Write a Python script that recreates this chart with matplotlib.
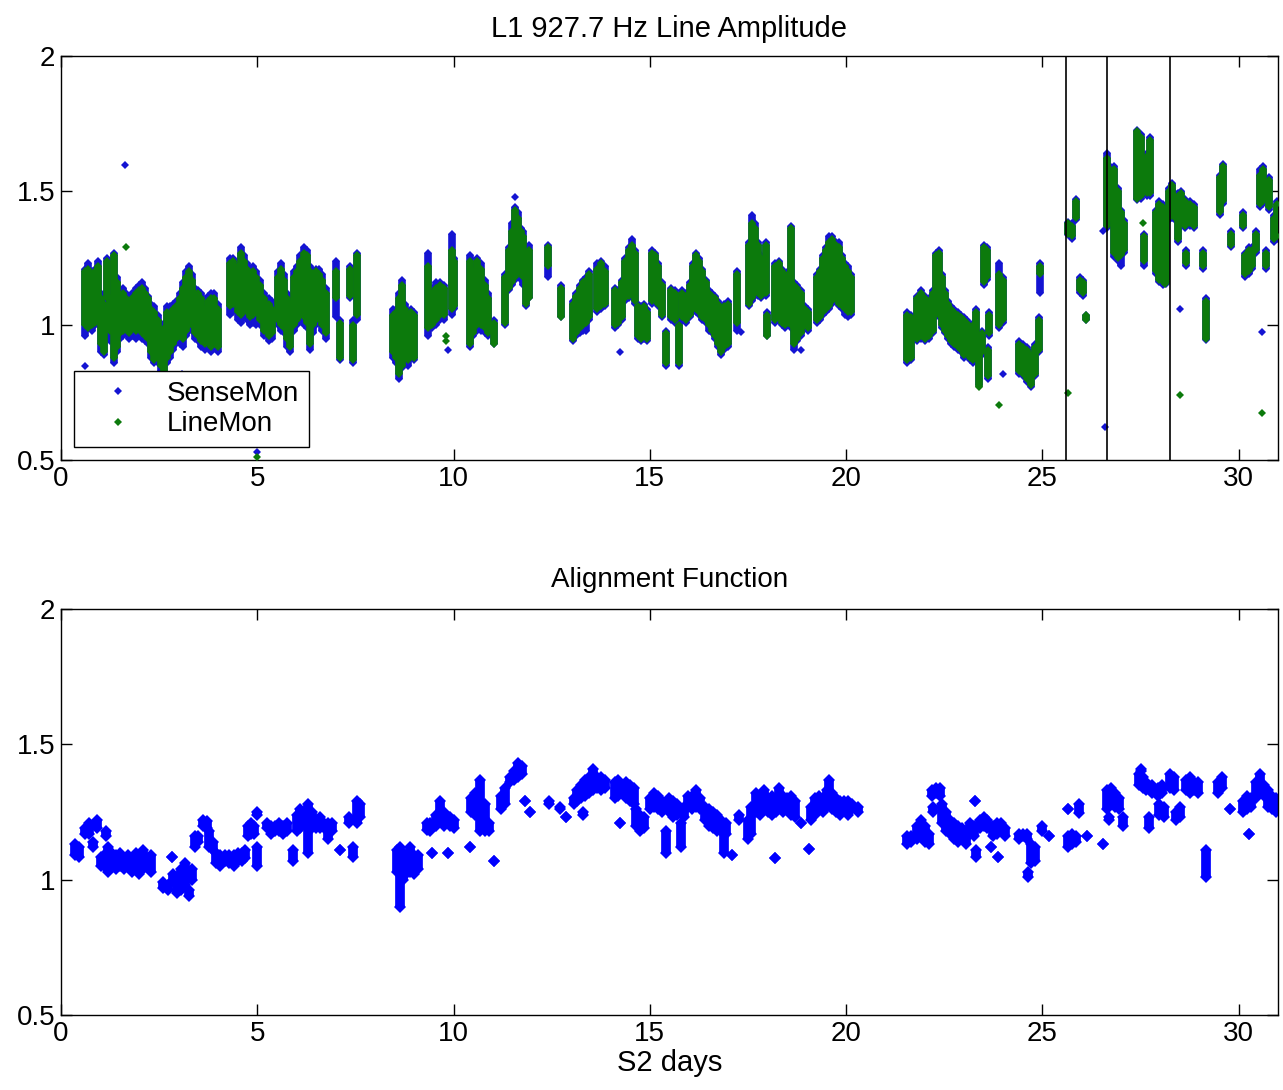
import matplotlib
matplotlib.use('Agg')
import matplotlib.pyplot as plt
from matplotlib.lines import Line2D

plt.rcParams['font.family'] = ['Liberation Sans', 'DejaVu Sans']

# ---- top panel: L1 927.7 Hz line amplitude, vertical spread of each burst of samples
amp_day = [0.62, 0.70, 0.78, 0.86, 0.94, 1.02, 1.10, 1.18, 1.26, 1.34,
           1.42, 1.50, 1.58, 1.66, 1.74, 1.82, 1.90, 1.98, 2.06, 2.14,
           2.22, 2.30, 2.38, 2.46, 2.54, 2.62, 2.70, 2.78, 2.86, 2.94,
           3.02, 3.10, 3.18, 3.26, 3.34, 3.42, 3.50, 3.58, 3.66, 3.74,
           3.82, 3.90, 4.00, 4.30, 4.38, 4.50, 4.58, 4.66, 4.74, 4.82,
           4.90, 4.98, 5.06, 5.16, 5.30, 5.38, 5.52, 5.60, 5.68, 5.76,
           5.84, 5.94, 6.02, 6.10, 6.18, 6.26, 6.34, 6.42, 6.50, 6.58,
           6.66, 6.74, 7.00, 7.12, 7.35, 7.45, 7.55, 8.45, 8.53, 8.60,
           8.68, 8.76, 8.84, 8.92, 9.00, 9.35, 9.45, 9.55, 9.65, 9.75,
           9.95, 10.02, 10.42, 10.50, 10.60, 10.70, 10.80, 10.88, 11.03, 11.30,
           11.42, 11.50, 11.57, 11.64, 11.71, 11.78, 11.85, 11.92, 12.40, 12.73,
           13.05, 13.13, 13.21, 13.29, 13.37, 13.45, 13.65, 13.75, 13.85, 14.12,
           14.20, 14.30, 14.38, 14.46, 14.54, 14.62, 14.70, 14.78, 14.86, 14.94,
           15.05, 15.13, 15.21, 15.30, 15.40, 15.55, 15.65, 15.75, 15.82, 15.92,
           16.02, 16.10, 16.18, 16.26, 16.34, 16.42, 16.50, 16.58, 16.66, 16.74,
           16.82, 16.90, 16.98, 17.22, 17.52, 17.60, 17.68, 17.76, 17.84, 17.95,
           17.99, 18.20, 18.28, 18.36, 18.44, 18.52, 18.60, 18.68, 18.76, 18.84,
           18.94, 19.02, 19.25, 19.33, 19.41, 19.49, 19.57, 19.65, 19.73, 19.81,
           19.89, 19.97, 20.05, 20.13, 21.55, 21.65, 21.80, 21.90, 22.00, 22.10,
           22.20, 22.28, 22.36, 22.44, 22.52, 22.60, 22.68, 22.76, 22.84, 22.92,
           23.00, 23.08, 23.16, 23.24, 23.30, 23.38, 23.45, 23.50, 23.58, 23.62,
           23.65, 23.90, 24.00, 24.40, 24.50, 24.60, 24.70, 24.80, 24.90, 24.95,
           25.65, 25.75, 25.85, 25.95, 26.03, 26.10, 26.65, 26.72, 26.82, 26.92,
           27.00, 27.08, 27.42, 27.50, 27.58, 27.66, 27.75, 27.90, 27.98, 28.06,
           28.14, 28.22, 28.30, 28.38, 28.46, 28.54, 28.62, 28.66, 28.76, 28.86,
           29.10, 29.17, 29.52, 29.60, 29.80, 30.10, 30.15, 30.25, 30.35, 30.45,
           30.55, 30.63, 30.70, 30.78, 30.90, 30.98]

line_lo = [1.00, 0.99, 1.00, 1.01, 1.02, 0.93, 0.90, 1.10, 0.98, 0.88,
           0.92, 0.97, 0.98, 0.99, 0.97, 0.99, 0.98, 1.00, 0.97, 0.96,
           0.95, 0.90, 0.87, 0.88, 0.85, 0.82, 0.88, 0.90, 0.93, 0.95,
           0.96, 0.95, 0.98, 1.00, 1.00, 0.97, 0.96, 0.94, 0.93, 0.95,
           0.92, 0.94, 0.92, 1.07, 1.08, 1.05, 1.04, 1.06, 1.05, 1.03,
           1.04, 1.05, 1.02, 0.98, 0.96, 0.97, 1.02, 1.00, 0.99, 0.95,
           0.92, 1.00, 1.02, 1.04, 1.03, 1.01, 0.93, 1.00, 1.02, 1.03,
           1.00, 0.97, 1.10, 0.88, 1.11, 0.87, 1.04, 0.90, 0.88, 0.82,
           0.85, 0.88, 0.87, 0.90, 0.88, 0.99, 1.00, 1.02, 1.04, 1.04,
           1.06, 1.07, 0.93, 0.97, 1.00, 1.00, 0.99, 0.97, 0.93, 1.01,
           1.14, 1.16, 1.18, 1.20, 1.19, 1.18, 1.08, 1.10, 1.22, 1.03,
           0.95, 0.97, 0.99, 1.00, 1.01, 1.03, 1.06, 1.07, 1.08, 1.00,
           1.01, 1.03, 1.10, 1.11, 1.12, 1.09, 0.96, 0.95, 0.96, 0.95,
           1.09, 1.10, 1.08, 1.04, 0.86, 1.03, 1.02, 0.86, 1.03, 1.02,
           1.04, 1.06, 1.06, 1.05, 1.03, 1.02, 1.00, 0.98, 0.96, 0.93,
           0.90, 0.92, 0.93, 1.01, 1.08, 1.10, 1.12, 1.12, 1.11, 1.12,
           0.96, 1.02, 1.03, 1.01, 1.00, 1.01, 1.00, 0.93, 0.95, 0.97,
           1.00, 0.99, 1.02, 1.03, 1.05, 1.06, 1.07, 1.09, 1.10, 1.08,
           1.07, 1.06, 1.05, 1.05, 0.87, 0.88, 0.95, 0.96, 0.95, 0.96,
           0.98, 1.05, 1.04, 1.00, 0.98, 0.96, 0.94, 0.93, 0.92, 0.91,
           0.89, 0.90, 0.88, 0.87, 0.88, 0.77, 0.90, 1.16, 1.18, 0.81,
           0.97, 1.00, 1.02, 0.83, 0.82, 0.80, 0.78, 0.82, 0.91, 1.19,
           1.34, 1.33, 1.40, 1.13, 1.12, 1.02, 1.37, 1.40, 1.27, 1.25,
           1.26, 1.28, 1.47, 1.48, 1.24, 1.49, 1.49, 1.20, 1.17, 1.16,
           1.16, 1.40, 1.41, 1.40, 1.32, 1.39, 1.37, 1.23, 1.38, 1.37,
           1.22, 0.95, 1.42, 1.46, 1.30, 1.37, 1.19, 1.20, 1.22, 1.28,
           1.45, 1.46, 1.22, 1.44, 1.32, 1.33]

line_hi = [1.20, 1.21, 1.19, 1.20, 1.22, 1.10, 1.08, 1.24, 1.10, 1.26,
           1.16, 1.10, 1.12, 1.10, 1.08, 1.10, 1.12, 1.13, 1.14, 1.12,
           1.10, 1.06, 1.05, 1.02, 0.98, 0.99, 1.05, 1.04, 1.06, 1.07,
           1.10, 1.14, 1.18, 1.20, 1.17, 1.12, 1.12, 1.10, 1.06, 1.09,
           1.10, 1.10, 1.06, 1.23, 1.24, 1.22, 1.27, 1.24, 1.21, 1.18,
           1.20, 1.18, 1.15, 1.10, 1.08, 1.06, 1.18, 1.21, 1.17, 1.10,
           1.08, 1.18, 1.20, 1.24, 1.27, 1.26, 1.20, 1.18, 1.20, 1.19,
           1.17, 1.12, 1.20, 1.01, 1.21, 1.00, 1.26, 1.04, 1.05, 1.10,
           1.15, 1.06, 1.04, 1.05, 1.04, 1.22, 1.12, 1.14, 1.15, 1.14,
           1.28, 1.24, 1.24, 1.20, 1.24, 1.21, 1.15, 1.10, 1.01, 1.18,
           1.28, 1.35, 1.43, 1.40, 1.35, 1.33, 1.25, 1.28, 1.29, 1.14,
           1.08, 1.11, 1.14, 1.16, 1.17, 1.19, 1.21, 1.23, 1.20, 1.13,
           1.12, 1.16, 1.24, 1.28, 1.30, 1.27, 1.07, 1.06, 1.07, 1.05,
           1.27, 1.26, 1.22, 1.15, 0.97, 1.13, 1.12, 1.00, 1.12, 1.11,
           1.15, 1.22, 1.26, 1.24, 1.20, 1.16, 1.12, 1.11, 1.10, 1.08,
           1.06, 1.07, 1.08, 1.19, 1.30, 1.38, 1.36, 1.30, 1.25, 1.30,
           1.04, 1.22, 1.23, 1.20, 1.18, 1.19, 1.36, 1.15, 1.14, 1.12,
           1.06, 1.05, 1.18, 1.20, 1.25, 1.28, 1.31, 1.32, 1.30, 1.29,
           1.25, 1.22, 1.20, 1.18, 1.04, 1.03, 1.10, 1.12, 1.10, 1.09,
           1.12, 1.26, 1.27, 1.18, 1.12, 1.08, 1.06, 1.05, 1.04, 1.03,
           1.02, 1.01, 0.99, 1.00, 1.05, 0.95, 0.97, 1.29, 1.28, 0.91,
           1.04, 1.19, 1.17, 0.93, 0.92, 0.91, 0.89, 0.92, 1.02, 1.22,
           1.38, 1.37, 1.46, 1.17, 1.16, 1.04, 1.62, 1.58, 1.58, 1.50,
           1.42, 1.38, 1.72, 1.70, 1.33, 1.63, 1.69, 1.42, 1.45, 1.44,
           1.40, 1.50, 1.52, 1.48, 1.48, 1.49, 1.46, 1.27, 1.45, 1.44,
           1.27, 1.09, 1.55, 1.59, 1.34, 1.41, 1.26, 1.28, 1.28, 1.34,
           1.56, 1.58, 1.27, 1.54, 1.40, 1.45]

sense_lo = [0.96, 0.99, 0.98, 1.00, 1.00, 0.90, 0.89, 1.08, 0.94, 0.86,
            0.90, 0.95, 0.96, 0.97, 0.95, 0.96, 0.95, 0.96, 0.95, 0.94,
            0.93, 0.88, 0.86, 0.86, 0.83, 0.80, 0.86, 0.88, 0.91, 0.93,
            0.93, 0.92, 0.96, 0.98, 0.98, 0.95, 0.94, 0.92, 0.91, 0.93,
            0.90, 0.92, 0.90, 1.04, 1.05, 1.02, 1.01, 1.03, 1.02, 1.00,
            1.01, 1.00, 1.00, 0.96, 0.94, 0.95, 1.00, 0.98, 0.97, 0.92,
            0.90, 0.98, 1.00, 1.02, 1.00, 0.99, 0.91, 0.97, 1.00, 1.01,
            0.98, 0.95, 1.03, 0.87, 1.10, 0.86, 1.02, 0.88, 0.86, 0.80,
            0.84, 0.86, 0.85, 0.88, 0.87, 0.96, 0.99, 1.00, 1.02, 1.02,
            1.04, 1.06, 0.92, 0.96, 0.98, 0.98, 0.97, 0.96, 0.93, 1.00,
            1.13, 1.15, 1.17, 1.18, 1.17, 1.15, 1.07, 1.10, 1.18, 1.03,
            0.94, 0.96, 0.97, 0.98, 0.98, 1.02, 1.05, 1.06, 1.07, 0.99,
            1.00, 1.02, 1.09, 1.10, 1.11, 1.08, 0.95, 0.94, 0.95, 0.94,
            1.08, 1.09, 1.07, 1.03, 0.85, 1.02, 1.01, 0.85, 1.02, 1.01,
            1.03, 1.05, 1.05, 1.04, 1.02, 1.01, 0.98, 0.97, 0.95, 0.92,
            0.89, 0.91, 0.92, 0.98, 1.07, 1.09, 1.11, 1.11, 1.10, 1.11,
            0.96, 1.01, 1.02, 1.00, 0.99, 1.00, 0.99, 0.91, 0.94, 0.96,
            0.99, 0.98, 1.01, 1.02, 1.04, 1.05, 1.06, 1.08, 1.09, 1.07,
            1.06, 1.04, 1.03, 1.04, 0.86, 0.87, 0.94, 0.95, 0.94, 0.95,
            0.97, 1.04, 1.03, 0.99, 0.97, 0.95, 0.93, 0.92, 0.91, 0.90,
            0.88, 0.89, 0.87, 0.86, 0.87, 0.78, 0.89, 1.15, 1.17, 0.80,
            0.96, 0.99, 1.01, 0.82, 0.81, 0.79, 0.77, 0.81, 0.90, 1.12,
            1.335, 1.32, 1.39, 1.12, 1.11, 1.02, 1.36, 1.39, 1.255, 1.24,
            1.22, 1.27, 1.465, 1.47, 1.22, 1.48, 1.48, 1.19, 1.16, 1.15,
            1.155, 1.39, 1.40, 1.39, 1.31, 1.38, 1.36, 1.22, 1.37, 1.36,
            1.21, 0.945, 1.41, 1.45, 1.29, 1.36, 1.18, 1.19, 1.21, 1.27,
            1.44, 1.45, 1.21, 1.43, 1.31, 1.32]

sense_hi = [1.21, 1.23, 1.20, 1.21, 1.24, 1.12, 1.10, 1.25, 1.12, 1.27,
            1.18, 1.12, 1.14, 1.12, 1.10, 1.12, 1.14, 1.15, 1.16, 1.14,
            1.11, 1.08, 1.07, 1.04, 1.00, 1.01, 1.07, 1.07, 1.08, 1.09,
            1.12, 1.16, 1.20, 1.22, 1.19, 1.14, 1.13, 1.12, 1.08, 1.11,
            1.12, 1.12, 1.08, 1.25, 1.25, 1.24, 1.29, 1.26, 1.23, 1.20,
            1.22, 1.20, 1.17, 1.12, 1.10, 1.09, 1.20, 1.23, 1.19, 1.12,
            1.10, 1.20, 1.22, 1.26, 1.29, 1.28, 1.22, 1.20, 1.21, 1.21,
            1.19, 1.14, 1.24, 1.02, 1.22, 1.02, 1.27, 1.06, 1.06, 1.12,
            1.17, 1.08, 1.05, 1.06, 1.05, 1.27, 1.14, 1.16, 1.16, 1.15,
            1.34, 1.25, 1.26, 1.22, 1.25, 1.23, 1.17, 1.12, 1.02, 1.19,
            1.29, 1.38, 1.44, 1.42, 1.36, 1.35, 1.27, 1.30, 1.30, 1.15,
            1.09, 1.12, 1.15, 1.17, 1.18, 1.20, 1.23, 1.24, 1.22, 1.14,
            1.13, 1.17, 1.25, 1.29, 1.32, 1.28, 1.08, 1.07, 1.08, 1.06,
            1.28, 1.27, 1.23, 1.16, 0.98, 1.14, 1.13, 1.01, 1.13, 1.12,
            1.16, 1.23, 1.27, 1.25, 1.21, 1.17, 1.13, 1.12, 1.11, 1.09,
            1.07, 1.08, 1.09, 1.20, 1.31, 1.41, 1.38, 1.31, 1.26, 1.31,
            1.05, 1.23, 1.24, 1.21, 1.19, 1.20, 1.37, 1.16, 1.15, 1.13,
            1.07, 1.06, 1.19, 1.21, 1.26, 1.29, 1.33, 1.33, 1.31, 1.31,
            1.26, 1.23, 1.22, 1.19, 1.05, 1.04, 1.11, 1.13, 1.11, 1.10,
            1.13, 1.27, 1.28, 1.19, 1.13, 1.09, 1.07, 1.06, 1.05, 1.04,
            1.03, 1.02, 1.00, 1.01, 1.06, 0.96, 0.98, 1.30, 1.29, 0.92,
            1.05, 1.23, 1.18, 0.94, 0.93, 0.92, 0.90, 0.93, 1.03, 1.23,
            1.385, 1.38, 1.47, 1.18, 1.17, 1.04, 1.64, 1.59, 1.59, 1.51,
            1.43, 1.39, 1.725, 1.71, 1.34, 1.64, 1.70, 1.43, 1.46, 1.45,
            1.41, 1.51, 1.53, 1.49, 1.49, 1.50, 1.47, 1.28, 1.46, 1.45,
            1.28, 1.10, 1.56, 1.60, 1.35, 1.42, 1.27, 1.29, 1.29, 1.35,
            1.58, 1.59, 1.28, 1.55, 1.41, 1.46]

# isolated samples
sense_out_day = [0.62, 1.64, 2.60, 3.08, 4.99, 9.86, 11.57, 14.25, 17.31, 18.84,
                 24.00, 26.54, 26.60, 28.50, 30.60]
sense_out_val = [0.85, 1.595, 0.83, 0.82, 0.53, 0.91, 1.475, 0.90, 0.976, 0.91,
                 0.82, 1.35, 0.624, 1.06, 0.976]
line_out_day = [1.66, 4.99, 9.80, 9.82, 23.89, 25.65, 27.55, 28.12, 28.50, 30.60]
line_out_val = [1.29, 0.51, 0.96, 0.94, 0.704, 0.747, 1.38, 1.155, 0.74, 0.673]

# lock-loss markers
event_day = [25.61, 26.65, 28.25]

# ---- bottom panel: alignment function
align_day = [0.35, 0.45, 0.62, 0.72, 0.82, 0.91, 1.02, 1.10, 1.15, 1.20,
             1.30, 1.40, 1.50, 1.60, 1.70, 1.80, 1.90, 2.00, 2.10, 2.20,
             2.30, 2.60, 2.72, 2.82, 2.85, 2.95, 3.05, 3.15, 3.25, 3.35,
             3.42, 3.50, 3.62, 3.72, 3.78, 3.88, 3.95, 4.05, 4.18, 4.28,
             4.40, 4.50, 4.60, 4.70, 4.76, 4.84, 4.92, 4.99, 5.00, 5.25,
             5.35, 5.45, 5.55, 5.65, 5.75, 5.92, 6.00, 6.10, 6.20, 6.30,
             6.40, 6.50, 6.60, 6.70, 6.80, 6.90, 7.10, 7.33, 7.45, 7.55,
             7.62, 8.55, 8.64, 8.72, 8.80, 8.90, 9.00, 9.10, 9.32, 9.40,
             9.45, 9.55, 9.66, 9.76, 9.87, 9.90, 10.00, 10.43, 10.45, 10.55,
             10.68, 10.80, 10.90, 11.04, 11.22, 11.32, 11.45, 11.55, 11.65, 11.75,
             11.83, 11.94, 12.42, 12.72, 12.87, 13.06, 13.15, 13.25, 13.30, 13.35,
             13.45, 13.55, 13.65, 13.75, 13.85, 14.10, 14.20, 14.25, 14.30, 14.40,
             14.50, 14.60, 14.66, 14.75, 14.85, 15.00, 15.10, 15.20, 15.30, 15.40,
             15.50, 15.60, 15.70, 15.80, 15.88, 15.98, 16.08, 16.18, 16.28, 16.40,
             16.50, 16.60, 16.70, 16.80, 16.88, 16.95, 17.10, 17.26, 17.50, 17.58,
             17.70, 17.80, 17.90, 18.00, 18.10, 18.20, 18.22, 18.30, 18.40, 18.50,
             18.60, 18.70, 18.84, 19.05, 19.10, 19.20, 19.30, 19.40, 19.50, 19.56,
             19.65, 19.75, 19.85, 19.95, 20.05, 20.15, 20.30, 21.55, 21.65, 21.80,
             21.90, 22.00, 22.10, 22.18, 22.20, 22.28, 22.38, 22.45, 22.55, 22.65,
             22.75, 22.85, 22.95, 23.05, 23.15, 23.25, 23.27, 23.30, 23.40, 23.50,
             23.60, 23.68, 23.75, 23.85, 23.87, 23.95, 24.05, 24.40, 24.50, 24.60,
             24.62, 24.72, 24.80, 24.98, 25.17, 25.64, 25.66, 25.76, 25.86, 25.93,
             26.13, 26.54, 26.65, 26.70, 26.75, 26.85, 26.95, 27.06, 27.45, 27.50,
             27.55, 27.65, 27.72, 27.80, 27.95, 27.96, 28.05, 28.10, 28.25, 28.35,
             28.40, 28.50, 28.65, 28.75, 28.85, 28.95, 29.17, 29.48, 29.58, 29.78,
             30.10, 30.20, 30.27, 30.30, 30.45, 30.55, 30.65, 30.75, 30.85, 30.95]

align_lo = [1.09, 1.085, 1.17, 1.17, 1.12, 1.19, 1.05, 1.05, 1.16, 1.03,
            1.05, 1.04, 1.05, 1.04, 1.05, 1.03, 1.04, 1.02, 1.04, 1.05,
            1.03, 0.97, 0.96, 1.085, 1.00, 0.95, 0.96, 0.98, 0.94, 1.00,
            1.12, 1.14, 1.20, 1.19, 1.12, 1.11, 1.06, 1.05, 1.07, 1.06,
            1.05, 1.07, 1.07, 1.08, 1.16, 1.17, 1.17, 1.24, 1.05, 1.19,
            1.17, 1.18, 1.18, 1.17, 1.18, 1.07, 1.18, 1.19, 1.21, 1.10,
            1.19, 1.19, 1.19, 1.19, 1.15, 1.18, 1.11, 1.21, 1.085, 1.21,
            1.23, 1.03, 0.90, 1.00, 1.02, 1.03, 1.02, 1.04, 1.185, 1.18,
            1.10, 1.20, 1.22, 1.20, 1.10, 1.20, 1.19, 1.12, 1.25, 1.24,
            1.18, 1.18, 1.18, 1.07, 1.26, 1.28, 1.36, 1.37, 1.38, 1.39,
            1.29, 1.25, 1.28, 1.26, 1.23, 1.28, 1.29, 1.30, 1.24, 1.31,
            1.32, 1.33, 1.34, 1.33, 1.34, 1.30, 1.31, 1.21, 1.32, 1.30,
            1.29, 1.28, 1.20, 1.18, 1.19, 1.26, 1.27, 1.26, 1.25, 1.10,
            1.25, 1.23, 1.24, 1.12, 1.23, 1.27, 1.26, 1.27, 1.26, 1.22,
            1.20, 1.19, 1.18, 1.18, 1.10, 1.17, 1.09, 1.22, 1.15, 1.17,
            1.25, 1.24, 1.26, 1.25, 1.24, 1.08, 1.25, 1.27, 1.25, 1.26,
            1.24, 1.23, 1.21, 1.115, 1.22, 1.24, 1.26, 1.25, 1.27, 1.30,
            1.26, 1.25, 1.24, 1.26, 1.24, 1.26, 1.25, 1.13, 1.14, 1.15,
            1.17, 1.14, 1.13, 1.31, 1.25, 1.32, 1.31, 1.21, 1.18, 1.17,
            1.15, 1.14, 1.15, 1.13, 1.17, 1.16, 1.29, 1.085, 1.19, 1.20,
            1.19, 1.12, 1.16, 1.17, 1.085, 1.18, 1.16, 1.15, 1.16, 1.15,
            1.01, 1.06, 1.07, 1.18, 1.16, 1.26, 1.12, 1.13, 1.14, 1.245,
            1.16, 1.13, 1.26, 1.22, 1.28, 1.27, 1.26, 1.20, 1.35, 1.40,
            1.34, 1.33, 1.19, 1.32, 1.31, 1.24, 1.32, 1.23, 1.34, 1.33,
            1.22, 1.23, 1.33, 1.32, 1.33, 1.32, 1.01, 1.32, 1.34, 1.26,
            1.25, 1.26, 1.17, 1.27, 1.30, 1.32, 1.31, 1.27, 1.26, 1.25]

align_hi = [1.13, 1.12, 1.19, 1.21, 1.14, 1.22, 1.085, 1.09, 1.18, 1.12,
            1.10, 1.09, 1.10, 1.08, 1.09, 1.08, 1.10, 1.07, 1.11, 1.08,
            1.09, 0.99, 0.98, 1.085, 1.02, 1.01, 1.04, 1.06, 0.96, 1.04,
            1.16, 1.16, 1.22, 1.215, 1.18, 1.14, 1.10, 1.09, 1.09, 1.09,
            1.09, 1.10, 1.10, 1.11, 1.20, 1.21, 1.20, 1.25, 1.12, 1.21,
            1.20, 1.20, 1.21, 1.20, 1.21, 1.11, 1.24, 1.26, 1.25, 1.28,
            1.25, 1.22, 1.23, 1.21, 1.21, 1.21, 1.11, 1.23, 1.12, 1.29,
            1.28, 1.11, 1.12, 1.10, 1.09, 1.12, 1.09, 1.09, 1.21, 1.21,
            1.10, 1.24, 1.29, 1.25, 1.10, 1.23, 1.22, 1.12, 1.30, 1.32,
            1.37, 1.28, 1.21, 1.07, 1.31, 1.34, 1.38, 1.40, 1.43, 1.42,
            1.29, 1.25, 1.29, 1.27, 1.23, 1.30, 1.33, 1.35, 1.25, 1.37,
            1.38, 1.41, 1.38, 1.38, 1.37, 1.36, 1.37, 1.21, 1.35, 1.36,
            1.35, 1.34, 1.26, 1.24, 1.23, 1.30, 1.32, 1.31, 1.29, 1.18,
            1.30, 1.29, 1.28, 1.21, 1.27, 1.31, 1.31, 1.33, 1.30, 1.27,
            1.26, 1.25, 1.24, 1.22, 1.17, 1.21, 1.09, 1.24, 1.22, 1.27,
            1.32, 1.31, 1.33, 1.30, 1.31, 1.08, 1.30, 1.34, 1.31, 1.30,
            1.31, 1.29, 1.21, 1.115, 1.27, 1.30, 1.31, 1.30, 1.33, 1.37,
            1.32, 1.30, 1.29, 1.29, 1.29, 1.28, 1.27, 1.16, 1.16, 1.20,
            1.22, 1.20, 1.17, 1.33, 1.27, 1.34, 1.34, 1.28, 1.25, 1.22,
            1.21, 1.20, 1.19, 1.18, 1.21, 1.20, 1.29, 1.11, 1.22, 1.23,
            1.22, 1.12, 1.20, 1.21, 1.085, 1.21, 1.19, 1.17, 1.17, 1.17,
            1.03, 1.13, 1.12, 1.20, 1.16, 1.26, 1.16, 1.17, 1.16, 1.28,
            1.16, 1.13, 1.33, 1.23, 1.34, 1.32, 1.30, 1.23, 1.39, 1.41,
            1.38, 1.36, 1.23, 1.35, 1.34, 1.28, 1.35, 1.27, 1.39, 1.38,
            1.25, 1.27, 1.37, 1.38, 1.36, 1.36, 1.11, 1.36, 1.38, 1.26,
            1.29, 1.31, 1.17, 1.30, 1.36, 1.39, 1.35, 1.33, 1.31, 1.30]

blue_top = '#1414d2'
green = '#0c7a0c'
blue_bot = '#0000ff'
fs = 20

fig = plt.figure(figsize=(12.83, 10.90), dpi=100)
ax1 = fig.add_axes([0.0475, 0.578, 0.9486, 0.3706])
ax2 = fig.add_axes([0.0475, 0.0688, 0.9486, 0.3725])

# top: SenseMon underneath, LineMon on top
ax1.vlines(amp_day, sense_lo, sense_hi, colors=blue_top, linewidth=5.5, zorder=2)
ax1.plot(amp_day, sense_lo, 'D', color=blue_top, ms=4, mew=0, zorder=2)
ax1.plot(amp_day, sense_hi, 'D', color=blue_top, ms=4, mew=0, zorder=2)
ax1.vlines(amp_day, line_lo, line_hi, colors=green, linewidth=5.5, zorder=3)
ax1.plot(amp_day, line_lo, 'D', color=green, ms=4, mew=0, zorder=3)
ax1.plot(amp_day, line_hi, 'D', color=green, ms=4, mew=0, zorder=3)
ax1.plot(sense_out_day, sense_out_val, 'D', color=blue_top, ms=4, mew=0, zorder=2)
ax1.plot(line_out_day, line_out_val, 'D', color=green, ms=4, mew=0, zorder=3)
for d in event_day:
    ax1.axvline(d, color='black', linewidth=1.2, zorder=4)

handles = [Line2D([], [], ls='none', marker='D', ms=4, mew=0, color=blue_top),
           Line2D([], [], ls='none', marker='D', ms=4, mew=0, color=green)]
leg = ax1.legend(handles, ['SenseMon', 'LineMon'], loc='lower left',
                 bbox_to_anchor=(0.0107, 0.032), borderaxespad=0, fontsize=fs,
                 fancybox=False, framealpha=1, edgecolor='black',
                 handlelength=2.5, handletextpad=0.5, borderpad=0.35,
                 labelspacing=0.15)
leg.get_frame().set_linewidth(1.0)
ax1.set_title('L1 927.7 Hz Line Amplitude', fontsize=21, pad=14)

# bottom
ax2.vlines(align_day, align_lo, align_hi, colors=blue_bot, linewidth=7, zorder=2)
ax2.plot(align_day, align_lo, 'D', color=blue_bot, ms=6, mew=0, zorder=2)
ax2.plot(align_day, align_hi, 'D', color=blue_bot, ms=6, mew=0, zorder=2)
ax2.set_title('Alignment Function', fontsize=20, pad=16)
ax2.set_xlabel('S2 days', fontsize=21, labelpad=2)

for ax in (ax1, ax2):
    ax.set_xlim(0, 31)
    ax.set_ylim(0.5, 2)
    ax.set_xticks([0, 5, 10, 15, 20, 25, 30])
    ax.set_yticks([0.5, 1, 1.5, 2])
    ax.set_yticklabels(['0.5', '1', '1.5', '2'])
    ax.tick_params(direction='in', length=8, width=1, top=True, right=True,
                   labelsize=fs, pad=4)
    for s in ax.spines.values():
        s.set_linewidth(1.0)

fig.savefig('out.png', dpi=100, facecolor='white')
